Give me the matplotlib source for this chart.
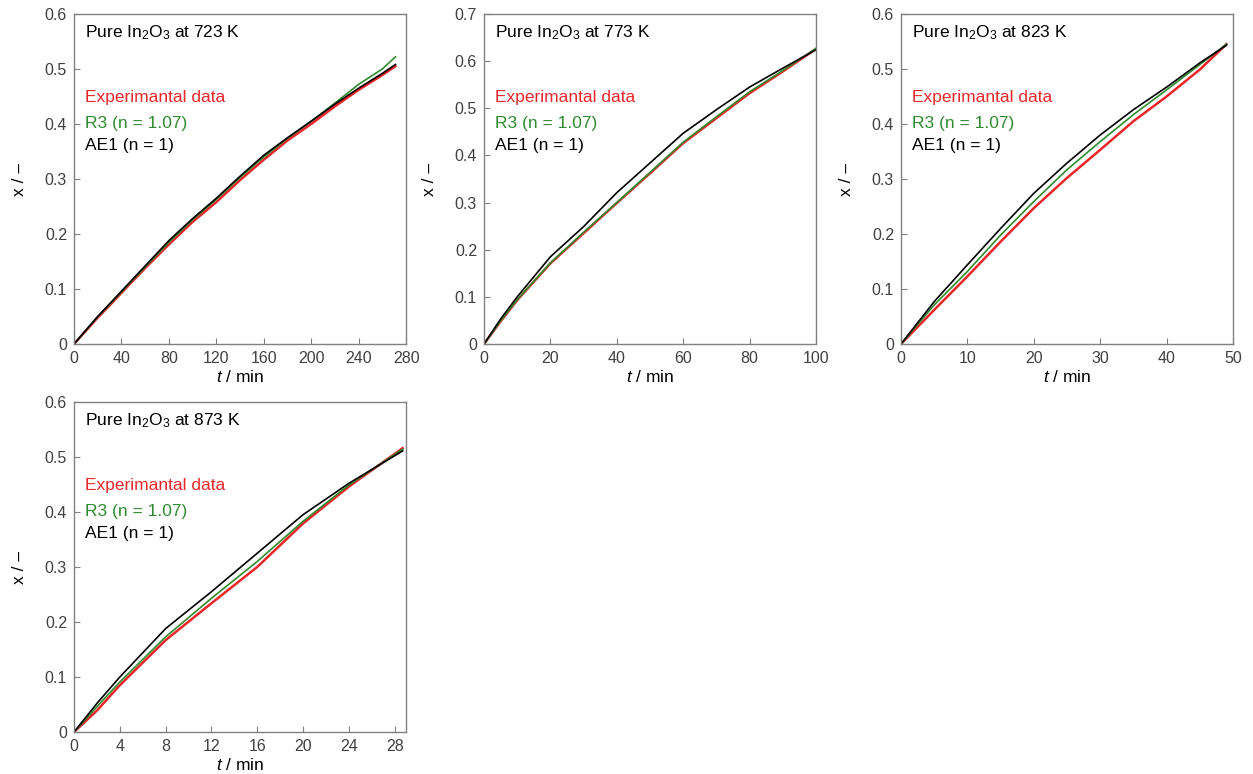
import numpy as np
import matplotlib.pyplot as plt
from matplotlib.ticker import MultipleLocator, FuncFormatter

plt.rcParams['font.family'] = ['Liberation Sans', 'DejaVu Sans']
plt.rcParams['mathtext.fontset'] = 'custom'
plt.rcParams['mathtext.rm'] = 'Liberation Sans'
plt.rcParams['mathtext.it'] = 'Liberation Sans:italic'

# Panel 1: 723 K
t_723 = [0, 10, 20, 30, 40, 60, 80, 100, 120, 140, 160, 180, 200, 220, 240, 260, 271]
exp_723 = [0, 0.024, 0.048, 0.070, 0.093, 0.138, 0.181, 0.222, 0.258, 0.298, 0.335, 0.370, 0.400, 0.432, 0.462, 0.489, 0.505]
r3_723 = [0, 0.025, 0.050, 0.072, 0.095, 0.140, 0.185, 0.226, 0.263, 0.303, 0.340, 0.374, 0.405, 0.438, 0.472, 0.500, 0.522]
ae1_723 = [0, 0.025, 0.050, 0.073, 0.096, 0.142, 0.188, 0.228, 0.265, 0.305, 0.343, 0.375, 0.405, 0.436, 0.465, 0.492, 0.508]

# Panel 2: 773 K
t_773 = [0, 5, 10, 20, 30, 40, 50, 60, 70, 80, 90, 100]
exp_773 = [0, 0.048, 0.093, 0.171, 0.235, 0.299, 0.362, 0.426, 0.479, 0.532, 0.578, 0.626]
r3_773 = [0, 0.049, 0.094, 0.172, 0.237, 0.300, 0.364, 0.428, 0.482, 0.535, 0.580, 0.627]
ae1_773 = [0, 0.053, 0.100, 0.185, 0.249, 0.321, 0.384, 0.447, 0.497, 0.545, 0.585, 0.624]

# Panel 3: 823 K
t_823 = [0, 5, 10, 15, 20, 25, 30, 35, 40, 45, 49]
exp_823 = [0, 0.062, 0.123, 0.186, 0.247, 0.302, 0.353, 0.405, 0.450, 0.499, 0.545]
r3_823 = [0, 0.071, 0.132, 0.198, 0.259, 0.317, 0.368, 0.417, 0.462, 0.508, 0.545]
ae1_823 = [0, 0.077, 0.144, 0.210, 0.274, 0.329, 0.380, 0.426, 0.467, 0.511, 0.543]

# Panel 4: 873 K
t_873 = [0, 2, 4, 8, 12, 16, 20, 24, 28.7]
exp_873 = [0, 0.039, 0.085, 0.167, 0.234, 0.300, 0.379, 0.446, 0.516]
r3_873 = [0, 0.046, 0.091, 0.173, 0.243, 0.310, 0.383, 0.449, 0.514]
ae1_873 = [0, 0.052, 0.100, 0.188, 0.255, 0.325, 0.395, 0.452, 0.511]

panels = [
    ('723', t_723, exp_723, r3_723, ae1_723, 280, 40, 0.6),
    ('773', t_773, exp_773, r3_773, ae1_773, 100, 20, 0.7),
    ('823', t_823, exp_823, r3_823, ae1_823, 50, 10, 0.6),
    ('873', t_873, exp_873, r3_873, ae1_873, 29, 4, 0.6),
]
rects = [
    [0.0591, 0.5556, 0.265, 0.4264],
    [0.3863, 0.5556, 0.265, 0.4264],
    [0.7191, 0.5556, 0.265, 0.4264],
    [0.0591, 0.0543, 0.265, 0.4264],
]

red = '#e8262a'
green = '#2e8b2e'
grey = '#808080'
fs = 12.5

fig = plt.figure(figsize=(12.53, 7.74), dpi=100)
for (T, t, e, r3, ae, xmax, xstep, ymax), rect in zip(panels, rects):
    ax = fig.add_axes(rect)
    ax.plot(t, e, color=red, lw=1.8)
    ax.plot(t, r3, color=green, lw=1.2)
    ax.plot(t, ae, color='black', lw=1.2)
    ax.set_xlim(0, xmax)
    ax.set_ylim(0, ymax)
    ax.xaxis.set_major_locator(MultipleLocator(xstep))
    ax.yaxis.set_major_locator(MultipleLocator(0.1))
    ax.yaxis.set_major_formatter(FuncFormatter(lambda v, p: '0' if abs(v) < 1e-9 else f'{v:.1f}'))
    ax.tick_params(direction='in', length=4, width=0.8, color=grey,
                   labelsize=11.5, labelcolor='#404040', pad=5)
    for s in ax.spines.values():
        s.set_color(grey)
        s.set_linewidth(1)
    ax.set_xlabel(r'$\mathit{t}$ / min', fontsize=fs, labelpad=2)
    ax.set_ylabel('x / –', fontsize=fs, labelpad=13)
    ax.text(0.033, 0.93, r'Pure In$_\mathregular{2}$O$_\mathregular{3}$ at ' + T + ' K',
            transform=ax.transAxes, fontsize=fs, va='baseline')
    ax.text(0.033, 0.734, 'Experimantal data', color=red, transform=ax.transAxes,
            fontsize=fs, va='baseline')
    ax.text(0.033, 0.655, 'R3 (n = 1.07)', color=green, transform=ax.transAxes,
            fontsize=fs, va='baseline')
    ax.text(0.033, 0.588, 'AE1 (n = 1)', color='black', transform=ax.transAxes,
            fontsize=fs, va='baseline')

plt.savefig('out.png', dpi=100)
